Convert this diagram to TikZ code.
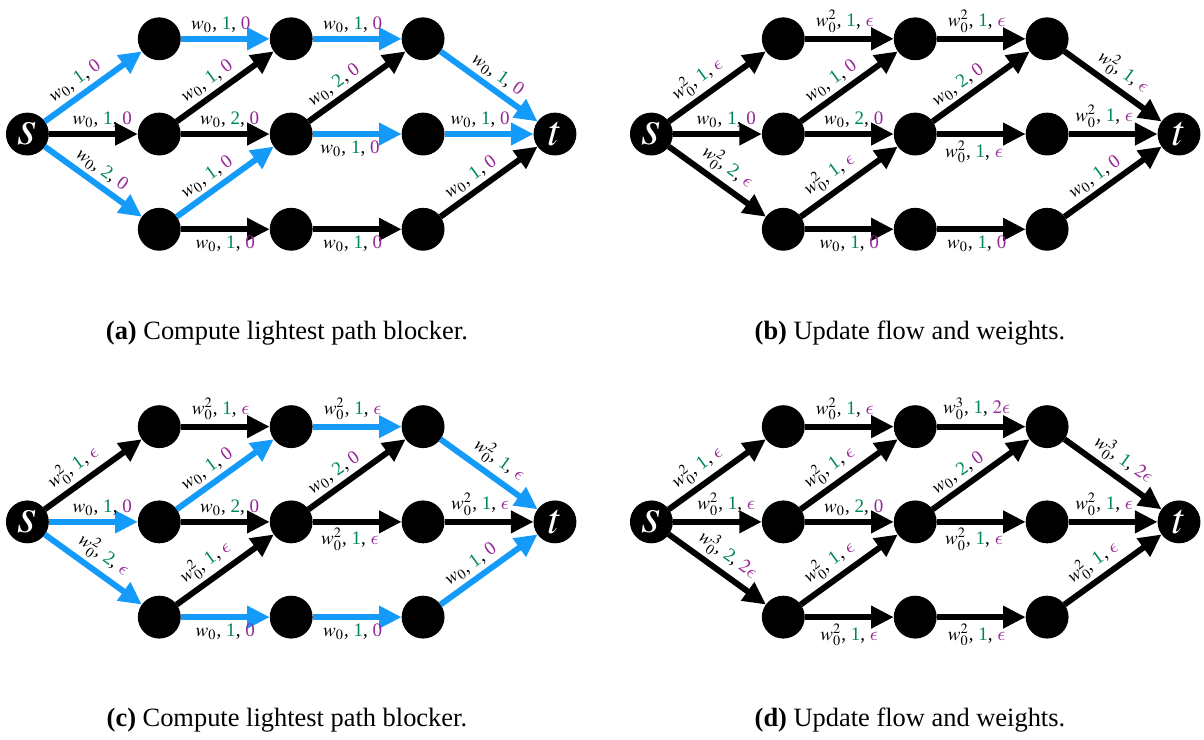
\documentclass[tikz,border=0pt]{standalone}
\usepackage{mathptmx}
\usepackage{fontspec}
\setmainfont{Liberation Serif}
\usetikzlibrary{positioning,arrows.meta}
\definecolor{flowblue}{RGB}{20,155,250}
\definecolor{capgreen}{RGB}{0,135,80}
\definecolor{costpurple}{RGB}{150,40,150}
\DeclareSymbolFont{cmletters}{OML}{cmm}{m}{it}
\DeclareMathSymbol{\lunate}{\mathord}{cmletters}{"0F}
\newcommand{\elab}[3]{#1, {\color{capgreen}#2}, {\color{costpurple}#3}}

\begin{document}
\begin{tikzpicture}[node distance=40pt and 55.4pt, on grid,
  dot/.style={draw, circle, fill, minimum size=17.6pt, inner sep=0pt},
  term/.style={dot, text=white, font=\fontsize{18}{18}\selectfont},
  source/.style={term, font=\fontsize{21}{21}\selectfont},
  flowarc/.style={line width=2.5pt, -{Triangle[length=9.5pt,width=9pt]}},
  hotarc/.style={flowarc, draw=flowblue},
  lab/.style={text=black, font=\footnotesize, inner sep=1.5pt},
  caption/.style={font=\fontsize{11.1}{13}\selectfont}]
  \useasboundingbox (0,0) rectangle (505.7pt,-310.4pt);

  % (a) lightest path blocker
  \node[source] (as) at (11.5pt,-56.3pt) {$s$};
  \node[dot] (a1) [above right=of as] {};
  \node[dot] (a2) [right=of as] {};
  \node[dot] (a3) [below right=of as] {};
  \node[dot] (a4) [right=of a1] {};
  \node[dot] (a5) [right=of a2] {};
  \node[dot] (a6) [right=of a3] {};
  \node[dot] (a7) [right=of a4] {};
  \node[dot] (a8) [right=of a5] {};
  \node[dot] (a9) [right=of a6] {};
  \node[term] (at) [right=of a8] {$t$};
  \draw[hotarc] (as) -- node[lab, sloped, above, pos=.4] {\elab{$w_0$}{1}{0}} (a1);
  \draw[flowarc] (as) -- node[lab, above, pos=.6] {\elab{$w_0$}{1}{0}} (a2);
  \draw[hotarc] (as) -- node[lab, sloped, above] {\elab{$w_0$}{2}{0}} (a3);
  \draw[hotarc] (a1) -- node[lab, above, pos=.45] {\elab{$w_0$}{1}{0}} (a4);
  \draw[flowarc] (a2) -- node[lab, sloped, above, pos=.4] {\elab{$w_0$}{1}{0}} (a4);
  \draw[flowarc] (a2) -- node[lab, above, pos=.55] {\elab{$w_0$}{2}{0}} (a5);
  \draw[hotarc] (a3) -- node[lab, sloped, above, pos=.4] {\elab{$w_0$}{1}{0}} (a5);
  \draw[flowarc] (a3) -- node[lab, below] {\elab{$w_0$}{1}{0}} (a6);
  \draw[hotarc] (a4) -- node[lab, above, pos=.45] {\elab{$w_0$}{1}{0}} (a7);
  \draw[flowarc] (a5) -- node[lab, sloped, above, pos=.35] {\elab{$w_0$}{2}{0}} (a7);
  \draw[hotarc] (a5) -- node[lab, below, pos=.42] {\elab{$w_0$}{1}{0}} (a8);
  \draw[flowarc] (a6) -- node[lab, below, pos=.45] {\elab{$w_0$}{1}{0}} (a9);
  \draw[hotarc] (a7) -- node[lab, sloped, above] {\elab{$w_0$}{1}{0}} (at);
  \draw[hotarc] (a8) -- node[lab, above, pos=.4] {\elab{$w_0$}{1}{0}} (at);
  \draw[flowarc] (a9) -- node[lab, sloped, above, pos=.4] {\elab{$w_0$}{1}{0}} (at);
  \node[caption] (capa) at (120.5pt,-139.9pt) {\textbf{(a)} Compute lightest path blocker.};

  % (b) update
  \node[source] (bs) at (273.6pt,-56.3pt) {$s$};
  \node[dot] (b1) [above right=of bs] {};
  \node[dot] (b2) [right=of bs] {};
  \node[dot] (b3) [below right=of bs] {};
  \node[dot] (b4) [right=of b1] {};
  \node[dot] (b5) [right=of b2] {};
  \node[dot] (b6) [right=of b3] {};
  \node[dot] (b7) [right=of b4] {};
  \node[dot] (b8) [right=of b5] {};
  \node[dot] (b9) [right=of b6] {};
  \node[term] (bt) [right=of b8] {$t$};
  \draw[flowarc] (bs) -- node[lab, sloped, above, pos=.4] {\elab{$w_0^2$}{1}{$\lunate$}} (b1);
  \draw[flowarc] (bs) -- node[lab, above, pos=.6] {\elab{$w_0$}{1}{0}} (b2);
  \draw[flowarc] (bs) -- node[lab, sloped, above] {\elab{$w_0^2$}{2}{$\lunate$}} (b3);
  \draw[flowarc] (b1) -- node[lab, above, pos=.45] {\elab{$w_0^2$}{1}{$\lunate$}} (b4);
  \draw[flowarc] (b2) -- node[lab, sloped, above, pos=.4] {\elab{$w_0$}{1}{0}} (b4);
  \draw[flowarc] (b2) -- node[lab, above, pos=.55] {\elab{$w_0$}{2}{0}} (b5);
  \draw[flowarc] (b3) -- node[lab, sloped, above, pos=.4] {\elab{$w_0^2$}{1}{$\lunate$}} (b5);
  \draw[flowarc] (b3) -- node[lab, below] {\elab{$w_0$}{1}{0}} (b6);
  \draw[flowarc] (b4) -- node[lab, above, pos=.45] {\elab{$w_0^2$}{1}{$\lunate$}} (b7);
  \draw[flowarc] (b5) -- node[lab, sloped, above, pos=.35] {\elab{$w_0$}{2}{0}} (b7);
  \draw[flowarc] (b5) -- node[lab, below, pos=.42] {\elab{$w_0^2$}{1}{$\lunate$}} (b8);
  \draw[flowarc] (b6) -- node[lab, below, pos=.45] {\elab{$w_0$}{1}{0}} (b9);
  \draw[flowarc] (b7) -- node[lab, sloped, above] {\elab{$w_0^2$}{1}{$\lunate$}} (bt);
  \draw[flowarc] (b8) -- node[lab, above, pos=.4] {\elab{$w_0^2$}{1}{$\lunate$}} (bt);
  \draw[flowarc] (b9) -- node[lab, sloped, above, pos=.4] {\elab{$w_0$}{1}{0}} (bt);
  \node[caption] (capb) at (382.2pt,-139.9pt) {\textbf{(b)} Update flow and weights.};

  % (c) lightest path blocker again
  \node[source] (cs) at (11.5pt,-219.2pt) {$s$};
  \node[dot] (c1) [above right=of cs] {};
  \node[dot] (c2) [right=of cs] {};
  \node[dot] (c3) [below right=of cs] {};
  \node[dot] (c4) [right=of c1] {};
  \node[dot] (c5) [right=of c2] {};
  \node[dot] (c6) [right=of c3] {};
  \node[dot] (c7) [right=of c4] {};
  \node[dot] (c8) [right=of c5] {};
  \node[dot] (c9) [right=of c6] {};
  \node[term] (ct) [right=of c8] {$t$};
  \draw[flowarc] (cs) -- node[lab, sloped, above, pos=.4] {\elab{$w_0^2$}{1}{$\lunate$}} (c1);
  \draw[hotarc] (cs) -- node[lab, above, pos=.6] {\elab{$w_0$}{1}{0}} (c2);
  \draw[hotarc] (cs) -- node[lab, sloped, above] {\elab{$w_0^2$}{2}{$\lunate$}} (c3);
  \draw[flowarc] (c1) -- node[lab, above, pos=.45] {\elab{$w_0^2$}{1}{$\lunate$}} (c4);
  \draw[hotarc] (c2) -- node[lab, sloped, above, pos=.4] {\elab{$w_0$}{1}{0}} (c4);
  \draw[flowarc] (c2) -- node[lab, above, pos=.55] {\elab{$w_0$}{2}{0}} (c5);
  \draw[flowarc] (c3) -- node[lab, sloped, above, pos=.4] {\elab{$w_0^2$}{1}{$\lunate$}} (c5);
  \draw[hotarc] (c3) -- node[lab, below] {\elab{$w_0$}{1}{0}} (c6);
  \draw[hotarc] (c4) -- node[lab, above, pos=.45] {\elab{$w_0^2$}{1}{$\lunate$}} (c7);
  \draw[flowarc] (c5) -- node[lab, sloped, above, pos=.35] {\elab{$w_0$}{2}{0}} (c7);
  \draw[flowarc] (c5) -- node[lab, below, pos=.42] {\elab{$w_0^2$}{1}{$\lunate$}} (c8);
  \draw[hotarc] (c6) -- node[lab, below, pos=.45] {\elab{$w_0$}{1}{0}} (c9);
  \draw[hotarc] (c7) -- node[lab, sloped, above] {\elab{$w_0^2$}{1}{$\lunate$}} (ct);
  \draw[flowarc] (c8) -- node[lab, above, pos=.4] {\elab{$w_0^2$}{1}{$\lunate$}} (ct);
  \draw[hotarc] (c9) -- node[lab, sloped, above, pos=.4] {\elab{$w_0$}{1}{0}} (ct);
  \node[caption] (capc) at (120.5pt,-302.4pt) {\textbf{(c)} Compute lightest path blocker.};

  % (d) update again
  \node[source] (ds) at (273.6pt,-219.2pt) {$s$};
  \node[dot] (d1) [above right=of ds] {};
  \node[dot] (d2) [right=of ds] {};
  \node[dot] (d3) [below right=of ds] {};
  \node[dot] (d4) [right=of d1] {};
  \node[dot] (d5) [right=of d2] {};
  \node[dot] (d6) [right=of d3] {};
  \node[dot] (d7) [right=of d4] {};
  \node[dot] (d8) [right=of d5] {};
  \node[dot] (d9) [right=of d6] {};
  \node[term] (dt) [right=of d8] {$t$};
  \draw[flowarc] (ds) -- node[lab, sloped, above, pos=.4] {\elab{$w_0^2$}{1}{$\lunate$}} (d1);
  \draw[flowarc] (ds) -- node[lab, above, pos=.6] {\elab{$w_0^2$}{1}{$\lunate$}} (d2);
  \draw[flowarc] (ds) -- node[lab, sloped, above] {\elab{$w_0^3$}{2}{$2\lunate$}} (d3);
  \draw[flowarc] (d1) -- node[lab, above, pos=.45] {\elab{$w_0^2$}{1}{$\lunate$}} (d4);
  \draw[flowarc] (d2) -- node[lab, sloped, above, pos=.4] {\elab{$w_0^2$}{1}{$\lunate$}} (d4);
  \draw[flowarc] (d2) -- node[lab, above, pos=.55] {\elab{$w_0$}{2}{0}} (d5);
  \draw[flowarc] (d3) -- node[lab, sloped, above, pos=.4] {\elab{$w_0^2$}{1}{$\lunate$}} (d5);
  \draw[flowarc] (d3) -- node[lab, below] {\elab{$w_0^2$}{1}{$\lunate$}} (d6);
  \draw[flowarc] (d4) -- node[lab, above, pos=.45] {\elab{$w_0^3$}{1}{$2\lunate$}} (d7);
  \draw[flowarc] (d5) -- node[lab, sloped, above, pos=.35] {\elab{$w_0$}{2}{0}} (d7);
  \draw[flowarc] (d5) -- node[lab, below, pos=.42] {\elab{$w_0^2$}{1}{$\lunate$}} (d8);
  \draw[flowarc] (d6) -- node[lab, below, pos=.45] {\elab{$w_0^2$}{1}{$\lunate$}} (d9);
  \draw[flowarc] (d7) -- node[lab, sloped, above] {\elab{$w_0^3$}{1}{$2\lunate$}} (dt);
  \draw[flowarc] (d8) -- node[lab, above, pos=.4] {\elab{$w_0^2$}{1}{$\lunate$}} (dt);
  \draw[flowarc] (d9) -- node[lab, sloped, above, pos=.4] {\elab{$w_0^2$}{1}{$\lunate$}} (dt);
  \node[caption] (capd) at (382.2pt,-302.4pt) {\textbf{(d)} Update flow and weights.};
\end{tikzpicture}
\end{document}
